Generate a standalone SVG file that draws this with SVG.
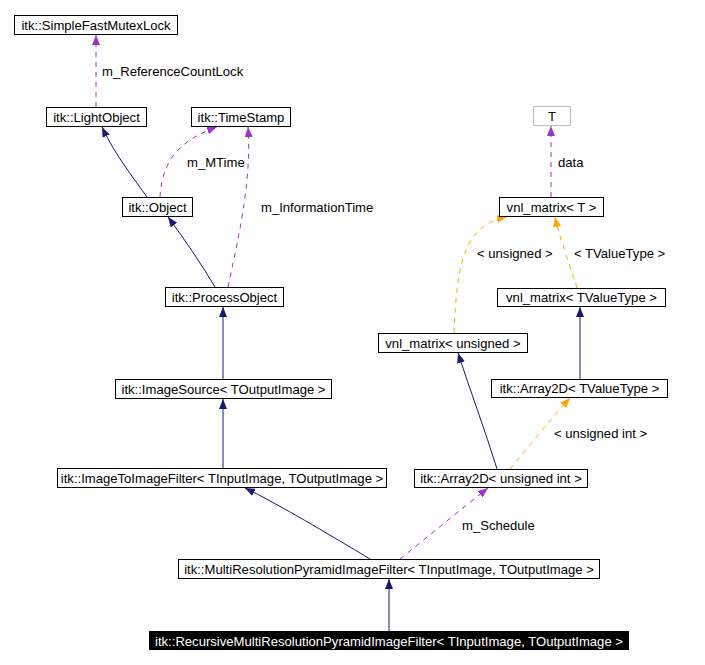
<svg xmlns="http://www.w3.org/2000/svg" width="705" height="665" viewBox="0 0 705 665">
<style>
.n rect{fill:#fff;stroke:#000;stroke-width:1}
text{font-family:"Liberation Sans",Arial,sans-serif;font-size:13.1px;fill:#000}
.n text{text-anchor:middle}
.e path{fill:none;stroke-width:1}
.nv{stroke:#191970}
.pu{stroke:#9a32cd;stroke-dasharray:5,5}
.or{stroke:#ffa500;stroke-dasharray:5,5}
</style>
<defs>
<marker id="an" markerUnits="userSpaceOnUse" markerWidth="10" markerHeight="8" refX="10" refY="4" orient="auto"><path d="M0,0 L10,4 L0,8 z" fill="#191970"/></marker>
<marker id="ap" markerUnits="userSpaceOnUse" markerWidth="10" markerHeight="8" refX="10" refY="4" orient="auto"><path d="M0,0 L10,4 L0,8 z" fill="#9a32cd"/></marker>
<marker id="ao" markerUnits="userSpaceOnUse" markerWidth="10" markerHeight="8" refX="10" refY="4" orient="auto"><path d="M0,0 L10,4 L0,8 z" fill="#ffa500"/></marker>
</defs>
<rect width="705" height="665" fill="#fff"/>
<g id="edges" class="e">
<path class="pu" d="M96,107 L96,35" marker-end="url(#ap)"/>
<path class="nv" d="M147,197 C135,180 115,155 102,127" marker-end="url(#an)"/>
<path class="pu" d="M160,197 C162,160 180,140 217,127" marker-end="url(#ap)"/>
<path class="pu" d="M228,287 C238,240 252,180 248,127" marker-end="url(#ap)"/>
<path class="nv" d="M215,287 C200,262 185,240 168,217" marker-end="url(#an)"/>
<path class="nv" d="M223,379 L223,307" marker-end="url(#an)"/>
<path class="nv" d="M223,468 L223,399" marker-end="url(#an)"/>
<path class="nv" d="M370,559 C330,535 280,505 245,488" marker-end="url(#an)"/>
<path class="pu" d="M400,559 C430,535 460,510 488,488" marker-end="url(#ap)"/>
<path class="nv" d="M389,631 L389,579" marker-end="url(#an)"/>
<path class="nv" d="M497,469 C485,430 470,390 458,353" marker-end="url(#an)"/>
<path class="or" d="M510,469 C530,445 550,420 570,398" marker-end="url(#ao)"/>
<path class="nv" d="M580,379 L580,307" marker-end="url(#an)"/>
<path class="or" d="M577,288 C570,265 560,240 555,217" marker-end="url(#ao)"/>
<path class="or" d="M454,333 C457,260 465,225 507,217" marker-end="url(#ao)"/>
<path class="pu" d="M551,197 L551,126" marker-end="url(#ap)"/>
</g>
<g id="labels">
<text x="102" y="76">m_ReferenceCountLock</text>
<text x="187" y="167">m_MTime</text>
<text x="261" y="212">m_InformationTime</text>
<text x="558" y="167">data</text>
<text x="477" y="258">&lt; unsigned &gt;</text>
<text x="574" y="258">&lt; TValueType &gt;</text>
<text x="554" y="438">&lt; unsigned int &gt;</text>
<text x="462" y="530">m_Schedule</text>
</g>
<g id="n1" class="n"><rect x="14.5" y="15.5" width="163" height="19"/><text x="96" y="30">itk::SimpleFastMutexLock</text></g>
<g id="n2" class="n"><rect x="46.5" y="107.5" width="100" height="19"/><text x="96.5" y="122">itk::LightObject</text></g>
<g id="n3" class="n"><rect x="191.5" y="107.5" width="99" height="19"/><text x="241" y="122">itk::TimeStamp</text></g>
<g id="n4" class="n"><rect x="122.5" y="197.5" width="70" height="19"/><text x="157.5" y="212">itk::Object</text></g>
<g id="n5" class="n"><rect x="165.5" y="287.5" width="118" height="19"/><text x="224.5" y="302">itk::ProcessObject</text></g>
<g id="n6" class="n"><rect x="115.5" y="379.5" width="216" height="19"/><text x="223.5" y="394">itk::ImageSource&lt; TOutputImage &gt;</text></g>
<g id="n7" class="n"><rect x="57.5" y="468.5" width="329" height="19"/><text x="222" y="483">itk::ImageToImageFilter&lt; TInputImage, TOutputImage &gt;</text></g>
<g id="n8" class="n"><rect x="178.5" y="559.5" width="421" height="19"/><text x="389" y="574">itk::MultiResolutionPyramidImageFilter&lt; TInputImage, TOutputImage &gt;</text></g>
<g id="n9"><rect x="149" y="631" width="480" height="19" fill="#000"/><text x="389" y="646" style="fill:#fff;text-anchor:middle">itk::RecursiveMultiResolutionPyramidImageFilter&lt; TInputImage, TOutputImage &gt;</text></g>
<g id="n10" class="n"><rect x="414.5" y="469.5" width="173" height="18"/><text x="501" y="483">itk::Array2D&lt; unsigned int &gt;</text></g>
<g id="n11" class="n"><rect x="533.5" y="106.5" width="37" height="19" style="stroke:#bfbfbf"/><text x="552" y="121">T</text></g>
<g id="n12" class="n"><rect x="499.5" y="197.5" width="104" height="19"/><text x="551.5" y="212">vnl_matrix&lt; T &gt;</text></g>
<g id="n13" class="n"><rect x="497.5" y="288.5" width="168" height="18"/><text x="581.5" y="302">vnl_matrix&lt; TValueType &gt;</text></g>
<g id="n14" class="n"><rect x="378.5" y="333.5" width="149" height="19"/><text x="453" y="348">vnl_matrix&lt; unsigned &gt;</text></g>
<g id="n15" class="n"><rect x="491.5" y="379.5" width="176" height="18"/><text x="579.5" y="393">itk::Array2D&lt; TValueType &gt;</text></g>
</svg>
